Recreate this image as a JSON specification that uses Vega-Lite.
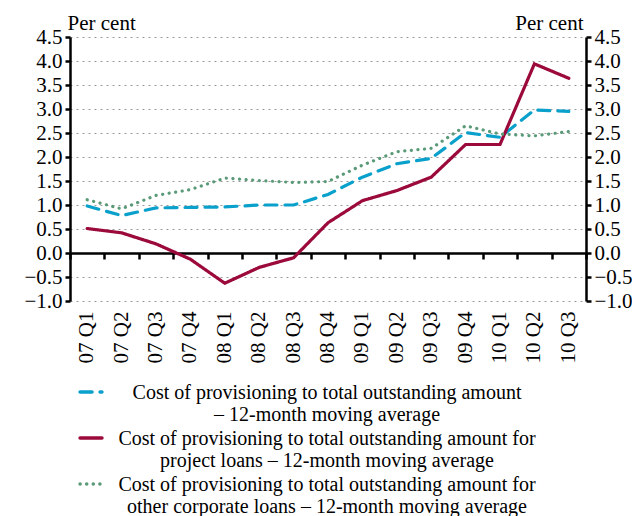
{
  "$schema": "https://vega.github.io/schema/vega-lite/v6.json",
  "width": 516,
  "height": 264,
  "autosize": "none",
  "padding": {"left": 70, "top": 37, "right": 46, "bottom": 215},
  "background": "white",
  "config": {
    "font": "Liberation Serif",
    "view": {"stroke": null},
    "axis": {"labelFont": "Liberation Serif", "titleFont": "Liberation Serif", "labelColor": "black", "titleColor": "black"}
  },
  "data": {"values": [
    {"q": "07 Q1", "s": "a", "v": 0.98}, {"q": "07 Q2", "s": "a", "v": 0.78}, {"q": "07 Q3", "s": "a", "v": 0.94},
    {"q": "07 Q4", "s": "a", "v": 0.95}, {"q": "08 Q1", "s": "a", "v": 0.96}, {"q": "08 Q2", "s": "a", "v": 1.0},
    {"q": "08 Q3", "s": "a", "v": 1.0}, {"q": "08 Q4", "s": "a", "v": 1.22}, {"q": "09 Q1", "s": "a", "v": 1.58},
    {"q": "09 Q2", "s": "a", "v": 1.86}, {"q": "09 Q3", "s": "a", "v": 1.97}, {"q": "09 Q4", "s": "a", "v": 2.51},
    {"q": "10 Q1", "s": "a", "v": 2.41}, {"q": "10 Q2", "s": "a", "v": 2.98}, {"q": "10 Q3", "s": "a", "v": 2.95},
    {"q": "07 Q1", "s": "b", "v": 0.51}, {"q": "07 Q2", "s": "b", "v": 0.42}, {"q": "07 Q3", "s": "b", "v": 0.19},
    {"q": "07 Q4", "s": "b", "v": -0.13}, {"q": "08 Q1", "s": "b", "v": -0.63}, {"q": "08 Q2", "s": "b", "v": -0.3},
    {"q": "08 Q3", "s": "b", "v": -0.1}, {"q": "08 Q4", "s": "b", "v": 0.63}, {"q": "09 Q1", "s": "b", "v": 1.09},
    {"q": "09 Q2", "s": "b", "v": 1.3}, {"q": "09 Q3", "s": "b", "v": 1.58}, {"q": "09 Q4", "s": "b", "v": 2.26},
    {"q": "10 Q1", "s": "b", "v": 2.26}, {"q": "10 Q2", "s": "b", "v": 3.94}, {"q": "10 Q3", "s": "b", "v": 3.64},
    {"q": "07 Q1", "s": "c", "v": 1.11}, {"q": "07 Q2", "s": "c", "v": 0.92}, {"q": "07 Q3", "s": "c", "v": 1.2},
    {"q": "07 Q4", "s": "c", "v": 1.32}, {"q": "08 Q1", "s": "c", "v": 1.56}, {"q": "08 Q2", "s": "c", "v": 1.51},
    {"q": "08 Q3", "s": "c", "v": 1.47}, {"q": "08 Q4", "s": "c", "v": 1.49}, {"q": "09 Q1", "s": "c", "v": 1.83},
    {"q": "09 Q2", "s": "c", "v": 2.11}, {"q": "09 Q3", "s": "c", "v": 2.18}, {"q": "09 Q4", "s": "c", "v": 2.65},
    {"q": "10 Q1", "s": "c", "v": 2.48}, {"q": "10 Q2", "s": "c", "v": 2.44}, {"q": "10 Q3", "s": "c", "v": 2.53}
  ]},
  "resolve": {"axis": {"x": "independent", "y": "independent"}},
  "layer": [
    {
      "mark": {"type": "line", "strokeWidth": 3.2, "strokeCap": "round"},
      "encoding": {
        "x": {"field": "q", "type": "ordinal", "scale": {"paddingInner": 0, "paddingOuter": 0},
          "axis": {"title": null, "domain": false, "ticks": false, "grid": false, "labelAngle": 270, "labelFontSize": 21, "labelPadding": 10, "labelAlign": "right", "labelBaseline": "middle"}},
        "y": {"field": "v", "type": "quantitative", "scale": {"domain": [-1, 4.5], "nice": false},
          "axis": {"orient": "left", "values": [-1, -0.5, 0, 0.5, 1, 1.5, 2, 2.5, 3, 3.5, 4, 4.5], "format": ".1f",
            "labelFontSize": 21, "labelPadding": 3, "domainColor": "black", "domainWidth": 2.5, "tickColor": "black", "tickWidth": 2.5, "tickSize": 5,
            "grid": true, "gridColor": "#999999", "gridDash": [2, 4], "gridWidth": 1.2,
            "title": "Per cent", "titleAngle": 0, "titleFontSize": 21, "titleFontWeight": "normal", "titleAlign": "left", "titleBaseline": "alphabetic", "titleX": -3, "titleY": -8}},
        "color": {"field": "s", "type": "nominal", "scale": {"domain": ["a", "b", "c"], "range": ["#0aa0cc", "#9b0a3a", "#5a9a78"]},
          "legend": {
            "orient": "none", "legendX": 8, "legendY": 342, "direction": "vertical", "title": null, "padding": 0,
            "symbolType": "stroke", "symbolStrokeWidth": 3.5, "symbolSize": 480, "labelFontSize": 20, "labelLimit": 600,
            "labelAlign": "center", "labelOffset": 223, "labelBaseline": "alphabetic", "labelColor": "black", "rowPadding": -4,
            "labelExpr": "datum.value == 'a' ? ['Cost of provisioning to total outstanding amount', '– 12-month moving average'] : datum.value == 'b' ? ['Cost of provisioning to total outstanding amount for', 'project loans – 12-month moving average'] : ['Cost of provisioning to total outstanding amount for', 'other corporate loans – 12-month moving average']",
            "encode": {"labels": {"update": {"dy": {"value": 7}, "lineHeight": {"value": 22}}}, "symbols": {"update": {"strokeCap": {"value": "round"}}}}
          }},
        "strokeDash": {"field": "s", "type": "nominal", "scale": {"domain": ["a", "b", "c"], "range": [[12, 8], [1, 0], [0.1, 6.5]]}, "legend": null}
      }
    },
    {
      "mark": {"type": "rule", "opacity": 0},
      "encoding": {
        "x": {"field": "q", "type": "ordinal",
          "axis": {"title": null, "orient": "bottom", "offset": -48, "labels": false, "grid": false, "domainColor": "black", "domainWidth": 2.5, "tickColor": "black", "tickWidth": 2.5, "tickSize": 6, "tickBand": "extent"}},
        "y": {"field": "v", "type": "quantitative",
          "axis": {"orient": "right", "values": [-1, -0.5, 0, 0.5, 1, 1.5, 2, 2.5, 3, 3.5, 4, 4.5], "format": ".1f", "grid": false,
            "labelFontSize": 21, "labelPadding": 3, "domainColor": "black", "domainWidth": 2.5, "tickColor": "black", "tickWidth": 2.5, "tickSize": 5,
            "title": "Per cent", "titleAngle": 0, "titleFontSize": 21, "titleFontWeight": "normal", "titleAlign": "right", "titleBaseline": "alphabetic", "titleX": -3, "titleY": -8}}
      }
    }
  ]
}
